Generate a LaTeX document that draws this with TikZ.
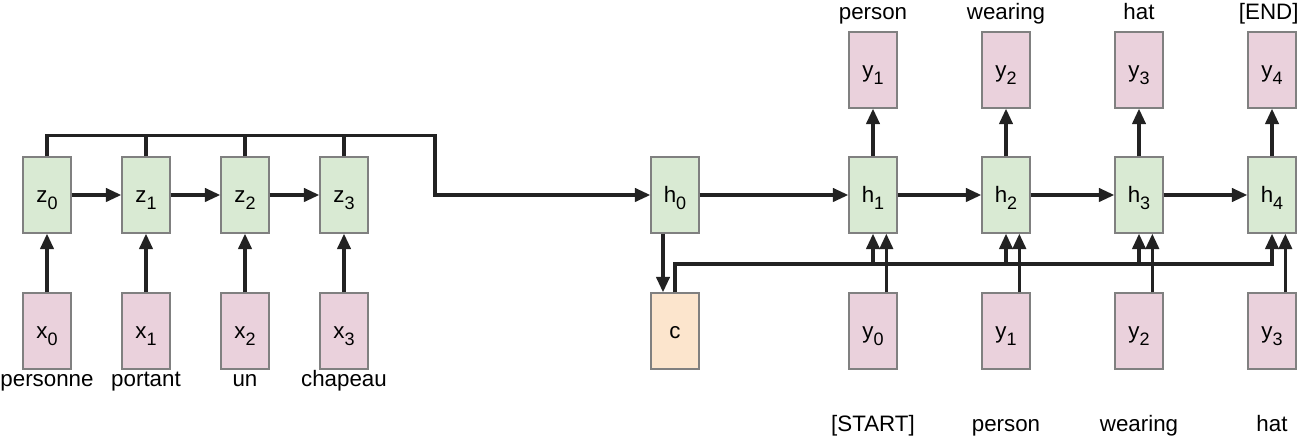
\documentclass[tikz,border=0pt]{standalone}
\usepackage{fontspec}
\setmainfont{Liberation Sans}
\usetikzlibrary{arrows.meta, positioning}

\definecolor{encgreen}{HTML}{D9EAD3}
\definecolor{tokpink}{HTML}{EAD1DC}
\definecolor{ctxorange}{HTML}{FCE5CD}
\definecolor{boxline}{HTML}{808080}
\definecolor{wire}{HTML}{222222}

% letter with a lowered index, as in the drawing
\newcommand{\idx}[2]{#1\raisebox{-5pt}{\fontsize{13.5pt}{14pt}\selectfont #2}}

\begin{document}
\begin{tikzpicture}[
    node distance=74.25pt,
    cell/.style={rectangle, minimum width=36pt, minimum height=57pt, inner sep=0pt, draw=boxline, line width=1.1pt, text height=12pt, text depth=0pt, font=\fontsize{16.75pt}{20pt}\selectfont},
    state/.style={cell, fill=encgreen},
    token/.style={cell, fill=tokpink},
    context/.style={cell, fill=ctxorange},
    word/.style={inner sep=0pt, text height=12pt, text depth=3.5pt, font=\fontsize{16.75pt}{20pt}\selectfont},
    link/.style={line width=2.3pt, draw=wire},
    arrow/.style={link, -{Triangle[length=11.5pt,width=10pt]}}
]

\useasboundingbox (-35.25pt,-182.25pt) rectangle (939pt,146.25pt);

% encoder
\node (z0) [state] {\idx{z}{0}};
\node (z1) [state, right of=z0] {\idx{z}{1}};
\node (z2) [state, right of=z1] {\idx{z}{2}};
\node (z3) [state, right of=z2] {\idx{z}{3}};

\node (x0) [token, below of=z0, node distance=102pt] {\idx{x}{0}};
\node (x1) [token, below of=z1, node distance=102pt] {\idx{x}{1}};
\node (x2) [token, below of=z2, node distance=102pt] {\idx{x}{2}};
\node (x3) [token, below of=z3, node distance=102pt] {\idx{x}{3}};

\node (w0) [word, below of=x0, node distance=37.5pt] {personne};
\node (w1) [word, below of=x1, node distance=37.5pt] {portant};
\node (w2) [word, below of=x2, node distance=37.5pt] {un};
\node (w3) [word, below of=x3, node distance=37.5pt] {chapeau};

\coordinate[right of=z3, node distance=68.25pt] (bend);

% decoder
\node (h0) [state, right of=z3, node distance=248.25pt] {\idx{h}{0}};
\node (c) [context, below of=h0, node distance=102pt] {c};
\node (h1) [state, right of=h0, node distance=148.5pt] {\idx{h}{1}};
\node (h2) [state, right of=h1, node distance=99.75pt] {\idx{h}{2}};
\node (h3) [state, right of=h2, node distance=99.75pt] {\idx{h}{3}};
\node (h4) [state, right of=h3, node distance=99.75pt] {\idx{h}{4}};

\node (out1) [token, above of=h1, node distance=93.75pt] {\idx{y}{1}};
\node (out2) [token, above of=h2, node distance=93.75pt] {\idx{y}{2}};
\node (out3) [token, above of=h3, node distance=93.75pt] {\idx{y}{3}};
\node (out4) [token, above of=h4, node distance=93.75pt] {\idx{y}{4}};

\node (in1) [token, below of=h1, node distance=102pt] {\idx{y}{0}};
\node (in2) [token, below of=h2, node distance=102pt] {\idx{y}{1}};
\node (in3) [token, below of=h3, node distance=102pt] {\idx{y}{2}};
\node (in4) [token, below of=h4, node distance=102pt] {\idx{y}{3}};

\node (o1) [word, above of=out1, node distance=41.75pt] {person};
\node (o2) [word, above of=out2, node distance=41.75pt] {wearing};
\node (o3) [word, above of=out3, node distance=41.75pt] {hat};
\node (o4) [word, above of=out4, node distance=41.75pt, xshift=-2.5pt] {[END]};

\node (i1) [word, below of=in1, node distance=71.25pt] {[START]};
\node (i2) [word, below of=in2, node distance=71.25pt] {person};
\node (i3) [word, below of=in3, node distance=71.25pt] {wearing};
\node (i4) [word, below of=in4, node distance=71.25pt] {hat};

\coordinate[above of=c, node distance=50.25pt] (cbus);

% encoder connections
\draw [arrow] (x0) -- (z0);
\draw [arrow] (x1) -- (z1);
\draw [arrow] (x2) -- (z2);
\draw [arrow] (x3) -- (z3);
\draw [arrow] (z0) -- (z1);
\draw [arrow] (z1) -- (z2);
\draw [arrow] (z2) -- (z3);
\draw [arrow] (z0.north) -- ++(0,15.75pt) -| (bend) -- (h0);
\draw [link] (z1.north) -- ++(0,15.75pt);
\draw [link] (z2.north) -- ++(0,15.75pt);
\draw [link] (z3.north) -- ++(0,15.75pt);

% decoder connections
\draw [arrow] (h0) -- (h1);
\draw [arrow] (h1) -- (h2);
\draw [arrow] (h2) -- (h3);
\draw [arrow] (h3) -- (h4);
\draw [arrow] ([xshift=-9pt]h0.south) -- ([xshift=-9pt]c.north);
\draw [arrow] (c.north) -- (cbus) -| (h4.south);
\draw [arrow] (cbus -| h1.south) -- (h1.south);
\draw [arrow] (cbus -| h2.south) -- (h2.south);
\draw [arrow] (cbus -| h3.south) -- (h3.south);
\draw [arrow] ([xshift=10pt]in1.north) -- ([xshift=10pt]h1.south);
\draw [arrow] ([xshift=10pt]in2.north) -- ([xshift=10pt]h2.south);
\draw [arrow] ([xshift=10pt]in3.north) -- ([xshift=10pt]h3.south);
\draw [arrow] ([xshift=10pt]in4.north) -- ([xshift=10pt]h4.south);
\draw [arrow] (h1) -- (out1);
\draw [arrow] (h2) -- (out2);
\draw [arrow] (h3) -- (out3);
\draw [arrow] (h4) -- (out4);

\end{tikzpicture}
\end{document}
